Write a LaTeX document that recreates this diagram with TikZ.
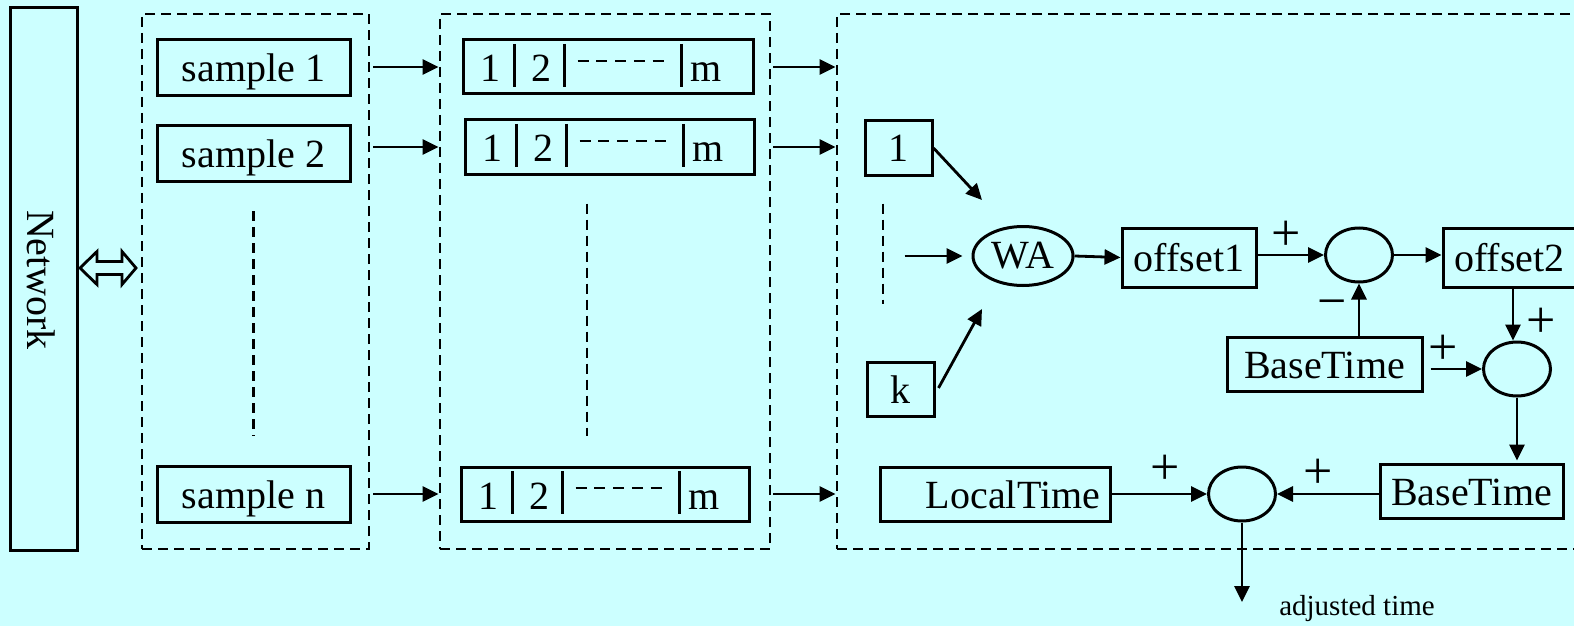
\documentclass[tikz,border=0pt]{standalone}
\usepackage{fontspec}
\setmainfont{Liberation Serif}
\usetikzlibrary{arrows.meta,shapes.geometric,calc}
\definecolor{bgcyan}{RGB}{204,255,255}

% slots of one sample record: dividers, the numbers and the dashed gap
\newcommand\slotrow[1]{%
  \draw[line width=1.4pt] ($(#1.west)+(53,-23)$) -- ++(0,43);
  \draw[line width=1.4pt] ($(#1.west)+(103,-23)$) -- ++(0,43);
  \draw[line width=1.4pt] ($(#1.west)+(220,-23)$) -- ++(0,43);
  \draw[line width=1.2pt, dash pattern=on 5.5pt off 3.9pt] ($(#1.west)+(116,-6)$) -- ++(86,0);
  \node[anchor=base] (#1-one) at ($(#1.west)+(29,15)$) {1};
  \node[anchor=base] (#1-two) at ($(#1.west)+(80,15)$) {2};
  \node[anchor=base] (#1-m) at ($(#1.west)+(245,15)$) {m};
}

\begin{document}
\begin{tikzpicture}[x=0.5pt,y=-0.5pt,
  every node/.style={font=\fontsize{20}{24}\selectfont, inner sep=0pt},
  box/.style={draw, line width=1.5pt, minimum height=27pt, text height=14pt, text depth=0pt},
  grp/.style={draw, line width=1.4pt, dash pattern=on 5pt off 3pt},
  vdots/.style={line width=1.4pt, dash pattern=on 5pt off 3pt},
  arr/.style={-{Triangle[length=8pt,width=7.5pt]}, line width=1.4pt},
  sumnode/.style={draw, ellipse, line width=1.5pt, minimum width=33.5pt, minimum height=27pt},
  sgn/.style={font=\fontsize{26}{30}\selectfont}]

\fill[bgcyan] (0,0) rectangle (1574,626);
\path[use as bounding box] (0,0) rectangle (1574,626);
\clip (0,0) rectangle (1574,626);

% network
\node[draw, line width=1.5pt, minimum width=33.5pt, minimum height=271pt] (net) at (43.5,279) {};
\node[rotate=-90] (netlabel) at (41,280) {Network};

% dashed groups
\node[grp, minimum width=113.5pt, minimum height=267.5pt] (grp1) at (255.5,281.5) {};
\node[grp, minimum width=165pt, minimum height=267.5pt] (grp2) at (605,281.5) {};
\node[grp, minimum width=381.5pt, minimum height=267.5pt] (grp3) at (1218.5,281.5) {};

% open double arrow between network and samples
\coordinate (dl) at (80,268);
\coordinate (dr) at (136,268);
\draw[line width=1.4pt, fill=bgcyan] (dl) -- ++(17,-16.5) -- ++(0,10) -- ++(25,0) -- ++(0,-10)
  -- (dr) -- ++(-14,16.5) -- ++(0,-10) -- ++(-25,0) -- ++(0,10) -- cycle;

% samples
\node[box, minimum width=96.5pt, minimum height=28pt] (s1) at (253.5,68) {sample 1};
\node[box, minimum width=96.5pt, minimum height=28pt] (s2) at (253.5,153.5) {sample 2};
\node[box, minimum width=96.5pt, minimum height=28pt] (sn) at (253.5,494) {sample n};
\draw[vdots] ($(s2.south)+(0,28)$) -- ($(sn.north)+(0,-29)$);

% records
\node[box, minimum width=145pt] (r1) at (608,67) {};
\node[box, minimum width=144.5pt] (r2) at (609.5,147) {};
\node[box, minimum width=144pt] (r3) at (605,494) {};
\slotrow{r1}
\slotrow{r2}
\slotrow{r3}
\draw[vdots] ($(r2.south)+(-22.5,28)$) -- ($(r3.north)+(-18,-30)$);

% arrows between groups
\foreach \r in {r1,r2,r3}{
  \draw[arr] ([xshift=1.5pt]grp1.east |- \r) -- (grp2.west |- \r);
  \draw[arr] ([xshift=1pt]grp2.east |- \r) -- (grp3.west |- \r);
}

% weighted average
\node[box, minimum width=33.5pt] (b1) at (898.5,148) {1};
\node[box, minimum width=33.5pt] (bk) at (900.5,389) {k};
\node[draw, ellipse, line width=1.5pt, minimum width=50pt, minimum height=29.5pt] (wa) at (1023,256) {WA};
\draw[vdots] ($(b1.south)+(-15.5,27)$) -- ($(bk.north)+(-17.5,-57)$);
\draw[arr] (b1.east) -- ($(wa)+(-41,-56)$);
\draw[arr] ($(bk.east)+(3,-1)$) -- ($(wa)+(-41,53)$);
\draw[arr] ($(wa.west)+(-67,0)$) -- ($(wa.west)+(-9,0)$);

% offsets
\node[box, minimum width=67pt, minimum height=29.5pt] (off1) at (1189,257.5) {offset1};
\node[sumnode] (c1) at (1359,255) {};
\node[box, minimum width=66.5pt, minimum height=29.5pt] (off2) at (1509.5,257.5) {offset2};
\node[box, minimum width=97.5pt] (bt1) at (1324.5,364) {BaseTime};
\node[sumnode] (c2) at (1517,369) {};
\node[box, minimum width=91.5pt] (bt2) at (1471.5,491) {BaseTime};
\node[sumnode] (c3) at (1242,494) {};
\node[box, minimum width=115pt, text width=105pt, align=right] (lt) at (995,494) {LocalTime};

\draw[arr] (wa.east) -- (off1.west);
\draw[arr] (off1.east |- c1) -- (c1.west) node[sgn, midway, yshift=9.5pt, xshift=-2.5pt] {+};
\draw[arr] (c1.east) -- (off2.west |- c1);
\draw[arr] (bt1.north -| c1) -- (c1.south) node[sgn, midway, xshift=-13.5pt] {−};
\draw[arr] ([xshift=-2pt]off2.south -| c2) -- ([xshift=-2pt]c2.north) node[sgn, midway, xshift=14pt, yshift=-4pt] {+};
\draw[arr, shorten <=3.5pt] (bt1.east |- c2) -- (c2.west) node[sgn, midway, yshift=9.5pt, xshift=-5pt] {+};
\draw[arr] (c2.south) -- ([yshift=1pt]c2.south |- bt2.north);
\draw[arr] (bt2.west |- c3) -- (c3.east) node[sgn, midway, yshift=10pt, xshift=-5pt] {+};
\draw[arr] (lt.east) -- (c3.west) node[sgn, midway, yshift=12pt, xshift=3pt] {+};

% result
\coordinate (adj) at (1242,602);
\draw[arr] (c3.south) -- (adj);
\node[font=\fontsize{14.5}{17}\selectfont, anchor=base] (adjlabel) at (1357,615) {adjusted time};

\end{tikzpicture}
\end{document}
